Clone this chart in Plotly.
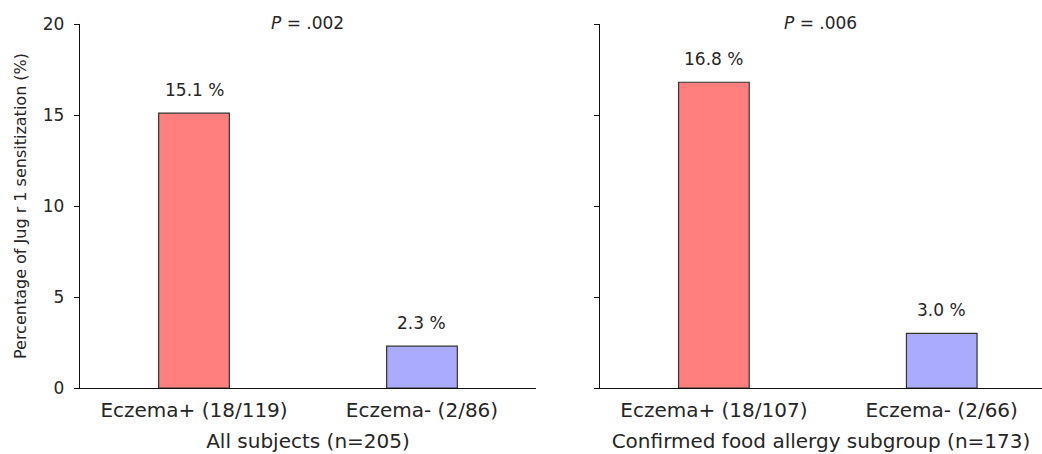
import plotly.graph_objects as go

left_categories = ["Eczema+ (18/119)", "Eczema- (2/86)"]
left_values = [15.1, 2.3]
right_categories = ["Eczema+ (18/107)", "Eczema- (2/66)"]
right_values = [16.8, 3.0]
bar_colors = ["#FF7F7F", "#AAAAFF"]
left_title = "All subjects (n=205)"
right_title = "Confirmed food allergy subgroup (n=173)"
p_values = ["<i>P</i> = .002", "<i>P</i> = .006"]
y_title = "Percentage of Jug r 1 sensitization (%)"
y_ticks = [0, 5, 10, 15, 20]

FONT = "DejaVu Sans"
TXT = "#262626"

fig = go.Figure()
fig.add_trace(go.Bar(x=left_categories, y=left_values, marker=dict(color=bar_colors, line=dict(color="#333333", width=1.2)),
                     width=0.31, xaxis="x", yaxis="y", showlegend=False, hoverinfo="skip"))
fig.add_trace(go.Bar(x=right_categories, y=right_values, marker=dict(color=bar_colors, line=dict(color="#333333", width=1.2)),
                     width=0.31, xaxis="x2", yaxis="y2", showlegend=False, hoverinfo="skip"))

annotations = []
for xr, yr, cats, vals in [("x", "y", left_categories, left_values), ("x2", "y2", right_categories, right_values)]:
    for c, v in zip(cats, vals):
        annotations.append(dict(x=c, y=v, xref=xr, yref=yr, text=f"{v:.1f} %", showarrow=False,
                                yanchor="bottom", yshift=11, font=dict(family=FONT, size=17, color=TXT)))

annotations.append(dict(x=0.5, y=1, xref="x domain", yref="paper", text=p_values[0], showarrow=False,
                        yanchor="middle", yshift=1, font=dict(family=FONT, size=17, color=TXT)))
annotations.append(dict(x=0.5, y=1, xref="x2 domain", yref="paper", text=p_values[1], showarrow=False,
                        yanchor="middle", yshift=1, font=dict(family=FONT, size=17, color=TXT)))

axis_common = dict(showline=True, linecolor="#111111", linewidth=1.3, showgrid=False, zeroline=False)

fig.update_layout(
    width=1042, height=454,
    margin=dict(l=80, r=0, t=24, b=66),
    paper_bgcolor="white", plot_bgcolor="white",
    font=dict(family=FONT, size=16, color=TXT),
    annotations=annotations,
    xaxis=dict(domain=[0, 0.474], range=[-0.5, 1.5], ticks="", tickfont=dict(size=20), ticklabelstandoff=4,
               title=dict(text=left_title, font=dict(size=20), standoff=12), **axis_common),
    xaxis2=dict(domain=[0.5405, 1], range=[-0.5, 1.44], ticks="", tickfont=dict(size=20), ticklabelstandoff=4,
                title=dict(text=right_title, font=dict(size=20), standoff=12), **axis_common),
    yaxis=dict(range=[0, 20], tickvals=y_ticks, ticks="outside", ticklen=5, tickcolor="#111111",
               tickfont=dict(size=17), ticklabelstandoff=6,
               title=dict(text=y_title, font=dict(size=16), standoff=12), **axis_common),
    yaxis2=dict(range=[0, 20], tickvals=y_ticks, ticks="outside", ticklen=5, tickcolor="#111111",
                showticklabels=False, anchor="x2", **axis_common),
)

fig.write_html("out.html", config={"displayModeBar": False}, post_script="document.body.style.margin='0';")
